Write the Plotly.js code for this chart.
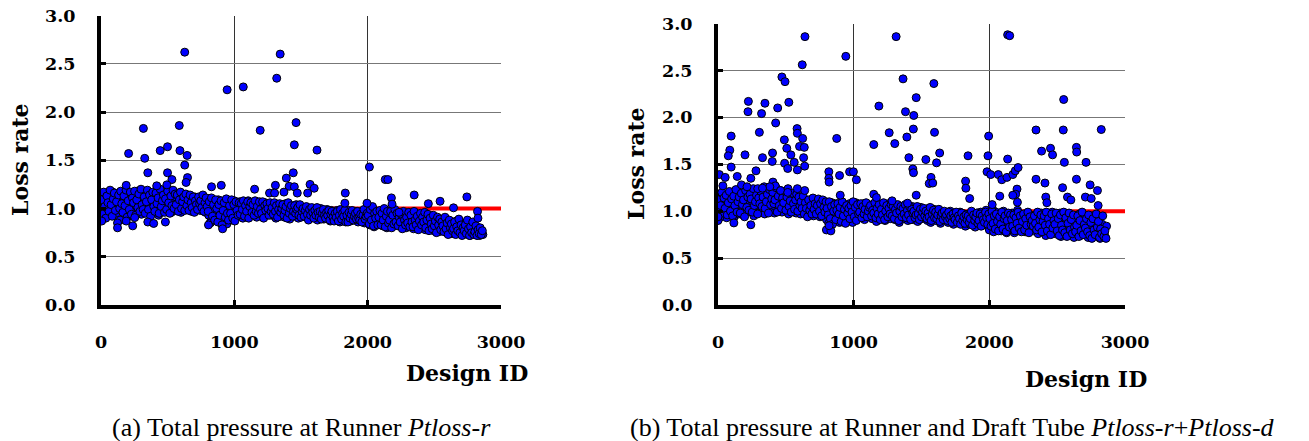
<!DOCTYPE html>
<html>
<head>
<meta charset="utf-8">
<script src="https://cdn.plot.ly/plotly-3.0.1.min.js"></script>
<style>html,body{margin:0;padding:0;background:#fff;}#chart{width:1309px;height:441px;}</style>
</head>
<body>
<div id="chart"></div>
<script>
// Design IDs of the dense band (same designs in both panels)
var designIds = [0,8,16,24,32,40,48,56,64,72,80,88,96,104,112,120,128,136,144,152,160,168,176,184,192,200,208,216,224,232,240,248,256,264,272,280,288,296,304,312,320,328,336,344,352,360,368,376,384,392,400,408,416,424,432,440,448,456,464,472,480,488,496,504,512,520,528,536,544,552,560,568,576,584,592,600,608,616,624,632,640,648,656,664,672,680,688,696,704,712,720,728,736,744,752,760,768,776,784,792,800,808,816,824,832,840,848,856,864,872,880,888,896,904,912,920,928,936,944,952,960,968,976,984,992,1000,1008,1016,1024,1032,1040,1048,1056,1064,1072,1080,1088,1096,1104,1112,1120,1128,1136,1144,1152,1160,1168,1176,1184,1192,1200,1208,1216,1224,1232,1240,1248,1256,1264,1272,1280,1288,1296,1304,1312,1320,1328,1336,1344,1352,1360,1368,1376,1384,1392,1400,1408,1416,1424,1432,1440,1448,1456,1464,1472,1480,1488,1496,1504,1512,1520,1528,1536,1544,1552,1560,1568,1576,1584,1592,1600,1608,1616,1624,1632,1640,1648,1656,1664,1672,1680,1688,1696,1704,1712,1720,1728,1736,1744,1752,1760,1768,1776,1784,1792,1800,1808,1816,1824,1832,1840,1848,1856,1864,1872,1880,1888,1896,1904,1912,1920,1928,1936,1944,1952,1960,1968,1976,1984,1992,2000,2008,2016,2024,2032,2040,2048,2056,2064,2072,2080,2088,2096,2104,2112,2120,2128,2136,2144,2152,2160,2168,2176,2184,2192,2200,2208,2216,2224,2232,2240,2248,2256,2264,2272,2280,2288,2296,2304,2312,2320,2328,2336,2344,2352,2360,2368,2376,2384,2392,2400,2408,2416,2424,2432,2440,2448,2456,2464,2472,2480,2488,2496,2504,2512,2520,2528,2536,2544,2552,2560,2568,2576,2584,2592,2600,2608,2616,2624,2632,2640,2648,2656,2664,2672,2680,2688,2696,2704,2712,2720,2728,2736,2744,2752,2760,2768,2776,2784,2792,2800,2808,2816,2824,2832,2840,2848,2856,2864];
var designIds2 = [4,12,20,28,36,44,52,60,68,76,84,92,100,108,116,124,132,140,148,156,164,172,180,188,196,204,212,220,228,236,244,252,260,268,276,284,292,300,308,316,324,332,340,348,356,364,372,380,388,396,404,412,420,428,436,444,452,460,468,476,484,492,500,508,516,524,532,540,548,556,564,572,580,588,596,604,612,620,628,636,644,652,660,668,676,684,692,700,708,716,724,732,740,748,756,764,772,780,788,796,804,812,820,828,836,844,852,860,868,876,884,892,900,908,916,924,932,940,948,956,964,972,980,988,996,1004,1012,1020,1028,1036,1044,1052,1060,1068,1076,1084,1092,1100,1108,1116,1124,1132,1140,1148,1156,1164,1172,1180,1188,1196,1204,1212,1220,1228,1236,1244,1252,1260,1268,1276,1284,1292,1300,1308,1316,1324,1332,1340,1348,1356,1364,1372,1380,1388,1396,1404,1412,1420,1428,1436,1444,1452,1460,1468,1476,1484,1492,1500,1508,1516,1524,1532,1540,1548,1556,1564,1572,1580,1588,1596,1604,1612,1620,1628,1636,1644,1652,1660,1668,1676,1684,1692,1700,1708,1716,1724,1732,1740,1748,1756,1764,1772,1780,1788,1796,1804,1812,1820,1828,1836,1844,1852,1860,1868,1876,1884,1892,1900,1908,1916,1924,1932,1940,1948,1956,1964,1972,1980,1988,1996,2004,2012,2020,2028,2036,2044,2052,2060,2068,2076,2084,2092,2100,2108,2116,2124,2132,2140,2148,2156,2164,2172,2180,2188,2196,2204,2212,2220,2228,2236,2244,2252,2260,2268,2276,2284,2292,2300,2308,2316,2324,2332,2340,2348,2356,2364,2372,2380,2388,2396,2404,2412,2420,2428,2436,2444,2452,2460,2468,2476,2484,2492,2500,2508,2516,2524,2532,2540,2548,2556,2564,2572,2580,2588,2596,2604,2612,2620,2628,2636,2644,2652,2660,2668,2676,2684,2692,2700,2708,2716,2724,2732,2740,2748,2756,2764,2772,2780,2788,2796,2804,2812,2820,2828,2836,2844,2852,2860];

// Panel (a): Ptloss-r loss rate, dense band
var bandA = [
0.98,1.12,1.05,0.93,1.15,1.08,1.01,1.16,0.96,1.10,
1.04,1.17,0.99,1.12,0.95,1.09,1.14,1.02,0.88,1.11,
1.06,1.18,0.97,1.13,1.03,0.92,1.15,1.08,1.00,1.16,
1.10,0.96,1.14,1.05,1.18,0.99,1.12,1.07,0.94,1.15,
1.03,1.17,1.08,0.97,1.13,1.01,1.16,0.95,1.10,1.06,
1.14,0.99,1.18,1.04,0.93,1.12,1.07,1.16,0.98,1.09,
1.02,1.15,0.97,1.11,1.06,1.17,0.96,1.13,1.03,1.08,
1.12,0.98,1.15,1.05,1.10,0.96,1.13,1.01,1.09,1.04,
1.11,0.99,1.07,1.13,1.02,0.97,1.10,1.05,1.12,1.00,
1.08,1.03,1.11,0.98,1.06,1.12,1.01,1.09,0.96,1.10,
1.05,0.93,1.10,0.87,1.03,0.98,1.08,0.90,1.06,0.95,
1.09,0.86,1.02,0.94,1.07,0.89,0.99,1.05,0.84,1.01,
0.92,1.06,0.88,1.03,0.97,1.08,0.91,1.00,1.05,0.94,
1.07,0.96,1.02,0.90,1.06,0.99,1.04,0.93,1.08,0.97,
1.01,1.06,0.94,1.03,0.98,1.07,0.91,1.00,1.05,0.95,
1.04,0.97,1.02,0.92,1.06,0.99,0.94,1.03,0.96,1.01,
0.93,1.05,0.98,1.02,0.90,1.04,0.96,1.00,0.92,1.03,
0.97,1.01,0.91,1.05,0.95,0.99,1.03,0.89,1.00,0.94,
1.02,0.96,0.92,1.04,0.98,0.90,1.01,0.95,0.99,0.93,
0.97,1.01,0.91,0.95,1.00,0.89,0.96,0.99,0.93,0.97,
0.92,0.99,0.95,0.88,0.98,0.94,1.00,0.91,0.96,0.89,
0.97,0.93,0.99,0.90,0.95,0.87,0.98,0.92,0.96,0.89,
0.94,0.98,0.90,0.95,0.86,0.97,0.92,0.88,0.96,0.91,
0.95,0.89,0.98,0.93,0.87,0.96,0.91,0.94,0.88,0.97,
0.92,0.86,0.95,0.90,0.97,0.88,0.93,0.85,0.96,0.91,
0.87,0.98,0.83,0.94,0.89,1.00,0.81,0.92,0.86,0.96,
0.84,0.93,0.88,0.97,0.82,0.91,0.86,0.95,0.80,0.90,
0.94,0.85,0.89,0.81,0.96,0.87,0.92,0.83,0.90,0.86,
0.91,0.82,0.95,0.87,0.84,0.93,0.80,0.89,0.85,0.92,
0.83,0.90,0.86,0.79,0.94,0.85,0.88,0.81,0.91,0.84,
0.87,0.80,0.92,0.84,0.78,0.89,0.82,0.86,0.93,0.79,
0.85,0.90,0.77,0.83,0.88,0.80,0.84,0.76,0.87,0.81,
0.78,0.84,0.80,0.89,0.75,0.82,0.86,0.77,0.81,0.74,
0.83,0.76,0.80,0.87,0.74,0.79,0.82,0.75,0.85,0.78,
0.73,0.80,0.77,0.84,0.75,0.79,0.72,0.82,0.76,0.74,
0.78,0.73,0.81,0.75,0.79,0.72,0.76,0.74,0.73];
var bandA2 = [
1.09,0.94,1.17,1.02,0.90,1.13,1.06,0.97,1.19,1.04,
0.92,1.10,1.16,0.98,1.07,0.85,1.14,1.00,1.18,1.05,
0.96,1.13,1.03,1.19,0.91,1.08,0.99,1.17,0.94,1.11,
1.06,1.18,0.93,1.09,1.01,1.15,0.97,1.20,1.04,0.99,
1.12,0.95,1.07,1.19,0.99,1.14,0.92,1.09,1.17,1.02,
0.97,1.16,1.05,1.11,0.95,1.20,1.02,1.08,1.14,0.96,
1.10,0.99,1.18,1.06,0.95,1.13,1.03,1.19,1.00,1.15,
1.04,1.14,0.97,1.09,1.17,1.00,1.07,1.12,0.98,1.15,
1.03,1.09,0.98,1.14,1.06,1.01,1.12,0.96,1.08,1.04,
0.99,1.12,1.05,1.08,1.01,1.14,0.97,1.06,1.11,1.02,
0.97,1.07,0.85,1.11,0.92,1.04,0.88,1.09,1.00,0.86,
1.04,0.93,1.08,0.83,0.98,1.06,0.91,1.10,0.95,0.88,
1.03,0.95,1.09,0.90,1.04,0.87,1.07,0.98,0.93,1.06,
0.94,1.05,0.99,1.08,0.92,1.03,0.97,1.07,0.90,1.02,
1.06,0.96,1.04,0.93,1.08,0.97,1.02,0.95,1.07,0.99,
0.95,1.07,0.90,1.03,0.98,1.05,1.00,0.93,1.06,0.97,
1.01,0.94,1.06,0.97,1.03,0.91,0.99,1.05,0.96,1.00,
1.04,0.93,0.98,1.02,0.90,1.06,0.95,1.00,1.03,0.92,
0.97,1.03,0.95,0.99,1.01,0.93,1.04,0.91,0.97,1.00,
0.92,0.98,1.02,0.94,0.88,0.99,0.93,1.01,0.96,0.90,
0.98,0.93,1.01,0.96,0.91,0.97,0.89,0.95,0.99,0.93,
0.90,0.96,0.93,0.98,0.88,0.94,0.97,0.91,0.87,0.95,
0.91,0.97,0.87,0.93,0.99,0.89,0.95,0.92,0.98,0.86,
0.93,0.86,0.96,0.90,0.94,0.98,0.88,0.92,0.95,0.89,
0.97,0.90,0.88,0.94,0.86,0.93,0.99,0.89,0.92,0.95,
0.93,0.84,0.99,0.88,1.02,0.82,0.95,0.90,0.97,0.83,
0.91,0.98,0.83,0.95,0.88,1.00,0.81,0.92,0.97,0.85,
0.88,0.97,0.80,0.93,0.84,0.99,0.86,0.95,0.82,0.91,
0.86,0.94,0.79,0.97,0.88,0.83,0.91,0.85,0.96,0.81,
0.93,0.86,0.81,0.97,0.88,0.83,0.92,0.78,0.87,0.95,
0.83,0.91,0.86,0.96,0.80,0.88,0.94,0.77,0.90,0.84,
0.79,0.93,0.82,0.87,0.75,0.91,0.83,0.89,0.78,0.86,
0.82,0.76,0.91,0.79,0.85,0.73,0.88,0.80,0.84,0.77,
0.79,0.86,0.73,0.81,0.77,0.89,0.75,0.83,0.72,0.80,
0.77,0.83,0.74,0.88,0.79,0.72,0.81,0.75,0.86,0.73,
0.76,0.82,0.72,0.78,0.74,0.80,0.73,0.77];

// Panel (a): scattered designs away from the band
var outAx = [628,1344,946,1067,1318,318,587,1194,1463,207,328,351,444,499,499,532,494,592,646,628,649,638,1450,1442,1390,1308,1411,1450,1620,1568,1599,1550,1472,1372,1264,1302,1152,829,902,189,418,2013,2132,2152,2178,2183,1832,1829,2349,2455,2543,2644,2744,2824,2827,2235,1995,124,238,189,483,351,395,806,912,5,253];
var outAy = [2.62,2.60,2.23,2.26,2.35,1.83,1.86,1.81,1.89,1.57,1.52,1.37,1.60,1.64,1.37,1.30,1.245,1.60,1.55,1.45,1.32,1.27,1.66,1.37,1.315,1.24,1.23,1.225,1.605,1.25,1.21,1.16,1.16,1.17,1.16,1.16,1.20,1.225,1.24,1.24,1.235,1.43,1.30,1.30,1.11,1.045,1.16,1.055,1.14,1.05,1.075,1.007,1.12,0.97,0.90,0.96,1.055,0.80,0.82,0.87,0.86,0.86,0.845,0.83,0.79,0.87,0.906];

// Panel (b): Ptloss-r + Ptloss-d loss rate, dense band
var bandB = [
1.02,1.15,0.95,1.10,1.18,0.99,1.07,1.13,0.93,1.16,
1.05,1.19,0.98,1.12,1.08,0.94,1.17,1.03,1.11,0.97,
1.14,1.06,1.20,0.96,1.10,1.03,1.17,0.99,1.13,1.08,
1.01,1.16,1.09,0.95,1.19,1.05,1.12,0.98,1.15,1.07,
1.18,1.02,1.11,0.97,1.21,1.06,1.14,1.00,1.17,1.09,
1.04,1.19,0.98,1.13,1.08,1.22,1.01,1.15,1.10,0.99,
1.16,1.05,1.20,1.02,1.12,0.97,1.17,1.07,1.14,1.00,
1.09,1.15,0.98,1.11,1.04,1.13,0.97,1.08,1.01,1.12,
1.05,0.99,1.10,0.96,1.07,1.12,1.00,1.09,0.95,1.06,
1.11,0.98,1.04,1.09,0.94,1.07,1.01,1.10,0.96,1.03,
0.91,1.06,0.87,1.02,0.95,1.09,0.89,1.04,0.97,1.08,
0.93,1.05,0.88,1.01,1.07,0.92,0.99,1.06,0.90,1.03,
0.96,1.08,0.91,1.02,0.88,1.05,0.97,1.09,0.93,1.00,
1.06,0.94,1.03,0.98,1.08,0.91,1.01,1.05,0.95,1.07,
0.99,1.04,0.92,1.07,0.96,1.02,0.89,1.05,0.98,1.03,
0.93,1.06,0.97,1.01,0.90,1.04,0.95,1.08,0.99,0.92,
1.03,0.96,1.00,0.91,1.05,0.94,1.02,0.88,0.98,1.04,
0.95,1.01,0.92,1.06,0.97,0.90,1.03,0.94,0.99,1.05,
0.91,0.98,1.02,0.94,0.89,1.00,0.96,1.04,0.92,0.97,
1.01,0.93,0.97,0.90,1.03,0.95,0.88,0.99,0.94,1.02,
0.96,0.90,1.00,0.93,0.97,0.87,0.99,0.94,0.91,0.98,
0.92,0.97,0.88,0.95,1.00,0.91,0.94,0.86,0.98,0.93,
0.96,0.89,0.93,0.99,0.87,0.95,0.91,0.97,0.84,0.94,
0.90,0.97,0.86,0.93,0.99,0.88,0.95,0.83,0.92,0.98,
0.94,0.87,0.99,0.91,0.85,0.96,0.89,1.01,0.86,0.93,
0.80,0.95,0.87,1.02,0.78,0.91,0.99,0.83,0.94,0.89,
0.97,0.79,0.88,1.00,0.84,0.93,0.77,0.96,0.86,0.91,
0.82,0.98,0.89,0.77,0.94,0.85,1.01,0.80,0.92,0.87,
0.95,0.83,0.90,0.78,0.97,0.86,0.81,0.93,0.88,0.84,
0.91,0.79,0.96,0.85,0.89,0.76,0.93,0.82,0.98,0.87,
0.80,0.94,0.74,0.88,0.97,0.83,0.91,0.77,0.99,0.85,
0.92,0.76,0.87,0.95,0.81,0.98,0.73,0.89,0.84,0.94,
0.78,0.90,0.83,0.96,0.75,0.88,0.80,0.93,0.72,0.86,
0.91,0.77,0.84,0.97,0.74,0.89,0.81,0.76,0.94,0.79,
0.85,0.72,0.90,0.78,0.83,0.95,0.73,0.87,0.76,0.81,
0.74,0.92,0.71,0.79,0.86,0.73,0.77,0.72,0.84];
var bandB2 = [
1.12,0.93,1.06,1.20,0.98,1.14,1.03,1.17,0.96,1.09,
1.21,1.00,1.13,0.95,1.16,1.06,1.23,0.99,1.10,1.15,
0.98,1.19,1.07,1.12,0.94,1.22,1.04,1.15,1.01,1.18,
1.13,0.99,1.24,1.06,1.10,1.17,0.97,1.14,1.08,1.21,
1.05,1.15,1.26,1.03,1.10,1.18,0.98,1.23,1.07,1.13,
1.20,1.08,1.12,1.25,0.99,1.16,1.06,1.22,1.03,1.14,
1.09,1.21,1.01,1.15,1.24,1.05,1.11,0.99,1.19,1.08,
1.02,1.12,1.18,1.00,1.15,1.06,1.10,1.03,1.16,0.97,
1.09,1.03,0.94,1.12,1.01,1.06,0.97,1.14,1.02,1.08,
0.97,1.06,1.13,1.00,1.08,0.95,1.12,1.04,0.99,1.10,
1.03,0.96,1.10,0.92,1.05,0.86,1.00,1.07,0.91,1.01,
1.08,0.97,1.04,0.89,1.10,0.95,1.02,0.87,1.06,0.98,
1.03,0.92,1.06,0.99,1.10,0.94,1.04,0.90,1.07,0.97,
0.99,1.08,0.93,1.05,0.97,1.02,1.09,0.94,1.00,1.04,
1.06,0.95,1.01,0.98,1.09,0.93,1.03,0.97,1.07,0.91,
1.02,0.96,1.09,0.91,1.00,1.06,0.94,1.03,0.97,1.07,
0.95,1.05,0.92,1.02,0.98,1.07,0.90,1.00,1.05,0.94,
1.03,0.97,1.07,0.93,1.01,0.96,1.05,0.91,1.02,0.98,
1.00,0.93,0.96,1.05,0.97,0.91,1.02,0.94,0.99,1.03,
0.95,1.00,0.92,0.98,0.94,1.04,0.90,0.97,1.01,0.93,
0.99,0.92,0.96,1.02,0.89,0.95,0.98,0.91,1.00,0.94,
0.96,0.90,0.99,0.92,0.95,0.88,0.97,0.93,0.91,0.99,
0.88,0.95,0.92,0.86,0.98,0.90,0.94,0.87,0.96,0.91,
0.95,0.88,0.92,1.00,0.85,0.96,0.90,0.94,0.98,0.87,
0.90,0.97,0.84,0.95,0.91,0.88,0.99,0.93,0.86,0.97,
0.92,0.84,1.00,0.87,0.95,0.81,0.97,0.89,0.79,0.94,
0.86,0.99,0.81,0.92,0.95,0.78,0.90,0.98,0.83,0.96,
0.91,0.84,0.96,0.79,0.93,0.87,0.99,0.82,0.95,0.78,
0.89,0.97,0.80,0.92,0.85,0.99,0.77,0.94,0.86,0.90,
0.84,0.95,0.87,0.80,0.99,0.83,0.91,0.96,0.78,0.89,
0.95,0.85,0.99,0.79,0.92,0.86,0.75,0.97,0.82,0.90,
0.86,0.98,0.79,0.92,0.74,0.96,0.85,0.80,0.99,0.77,
0.93,0.73,0.87,0.98,0.80,0.91,0.76,0.96,0.83,0.78,
0.85,0.95,0.73,0.90,0.79,0.99,0.75,0.86,0.82,0.92,
0.78,0.96,0.74,0.88,0.71,0.92,0.80,0.75,0.97,0.83,
0.89,0.72,0.81,0.76,0.95,0.73,0.79,0.71];

// Panel (b): scattered designs away from the band
var outBx = [641,1313,2135,2150,942,621,471,494,1364,1591,2548,1461,224,221,346,522,440,321,1186,1382,1443,425,1440,2344,2545,2825,1995,97,305,583,585,1262,1596,1392,875,489,624,1148,1303,2642,2644,2385,2451,2466,601,636,507,87,76,199,402,328,537,631,1634,1407,1532,1843,1990,2135,2553,2713,491,562,400,97,10,53,142,280,242,514,585,639,817,817,819,970,998,1020,896,1436,1441,1570,1557,1583,1611,1983,2010,2066,2092,2130,2173,2191,2212,1825,1827,1855,2344,2410,2540,2642,2743,2797,2708,2576,2601,2416,2424,2751,2802,2204,2194,2207,2173,2077,2021,1461,639,585,36,173,214,293,405,422,382,328,461,514,901,1148,1168,1283,1397,242,117,0,0,799,832,819];
var outBy = [2.86,2.86,2.88,2.87,2.65,2.56,2.43,2.38,2.41,2.36,2.19,2.21,2.17,2.06,2.15,2.16,2.10,2.04,2.12,2.06,2.02,1.94,1.875,1.865,1.865,1.87,1.80,1.80,1.84,1.88,1.83,1.836,1.84,1.79,1.775,1.76,1.775,1.71,1.72,1.68,1.63,1.64,1.67,1.60,1.69,1.68,1.67,1.65,1.59,1.60,1.62,1.57,1.60,1.57,1.62,1.57,1.55,1.59,1.59,1.555,1.52,1.52,1.51,1.52,1.53,1.47,1.39,1.36,1.37,1.43,1.35,1.455,1.44,1.48,1.42,1.35,1.31,1.42,1.42,1.335,1.38,1.45,1.41,1.36,1.295,1.30,1.515,1.42,1.39,1.39,1.335,1.36,1.39,1.43,1.465,1.32,1.245,1.135,1.34,1.30,1.25,1.34,1.28,1.22,1.15,1.15,1.12,1.15,1.09,1.135,1.06,1.235,1.18,1.095,1.17,1.16,1.07,1.17,1.22,1.24,1.27,1.28,1.26,1.24,1.31,1.27,1.26,1.245,1.22,1.20,1.17,1.18,1.145,1.11,1.085,0.855,0.875,0.90,0.94,0.80,0.79,0.845];

var refX = [0, 3000];
var refY = [1.0, 1.0];
var xTicks = [0, 1000, 2000, 3000];
var yTicks = [0, 0.5, 1.0, 1.5, 2.0, 2.5, 3.0];

var W = 1309, H = 441;
var mk = {size: 8, color: '#0000ff', line: {color: '#000000', width: 1}};
var tickFont = {family: 'DejaVu Serif', size: 17.5, color: '#000', weight: 'bold'};

function xAx(d0, d1) {
  return {domain: [d0 / W, d1 / W], range: [0, 3000], tickvals: xTicks, ticktext: xTicks.map(String),
    showgrid: true, gridcolor: '#333', gridwidth: 1, zeroline: false,
    showline: true, linecolor: '#000', linewidth: 4, ticks: 'inside', ticklen: 5, tickwidth: 3, tickcolor: '#000',
    tickfont: tickFont, ticklabelstandoff: 18, fixedrange: true};
}
function yAx(topPx, botPx) {
  return {domain: [(H - botPx) / H, (H - topPx) / H], range: [0, 3], tickvals: yTicks, ticktext: yTicks.map(function (v) { return v.toFixed(1); }),
    showgrid: true, gridcolor: '#777', gridwidth: 1, zeroline: false,
    showline: true, linecolor: '#000', linewidth: 4, ticks: 'inside', ticklen: 5, tickwidth: 3, tickcolor: '#000',
    tickfont: tickFont, ticklabelstandoff: 18, fixedrange: true};
}

function pts(xs, ys, xa, ya) { return {x: xs, y: ys, xaxis: xa, yaxis: ya, mode: 'markers', marker: mk}; }
function ref(xa, ya) { return {x: refX, y: refY, xaxis: xa, yaxis: ya, mode: 'lines', line: {color: '#ff0000', width: 4}, cliponaxis: false}; }

var data = [
  ref('x', 'y'),
  pts(designIds, bandA, 'x', 'y'),
  pts(designIds2, bandA2, 'x', 'y'),
  pts(outAx, outAy, 'x', 'y'),
  ref('x2', 'y2'),
  pts(designIds, bandB, 'x2', 'y2'),
  pts(designIds2, bandB2, 'x2', 'y2'),
  pts(outBx, outBy, 'x2', 'y2')
];

var titleFont = {family: 'DejaVu Serif', size: 22, color: '#000', weight: 'bold'};
var capFont = {family: 'Liberation Serif', size: 26, color: '#000'};

var layout = {
  width: W, height: H, margin: {l: 0, r: 0, t: 0, b: 0},
  paper_bgcolor: '#fff', plot_bgcolor: '#fff', showlegend: false,
  xaxis: xAx(101, 501), yaxis: yAx(15.5, 305),
  xaxis2: Object.assign(xAx(718, 1125), {anchor: 'y2'}), yaxis2: Object.assign(yAx(23.5, 305), {anchor: 'x2'}),
  annotations: [
    {text: 'Loss rate', textangle: -90, xref: 'paper', yref: 'paper', x: 20 / W, y: 1 - 160 / H, xanchor: 'center', yanchor: 'middle', showarrow: false, font: titleFont},
    {text: 'Loss rate', textangle: -90, xref: 'paper', yref: 'paper', x: 636 / W, y: 1 - 164 / H, xanchor: 'center', yanchor: 'middle', showarrow: false, font: titleFont},
    {text: 'Design ID', xref: 'paper', yref: 'paper', x: 530 / W, y: 1 - 373 / H, xanchor: 'right', yanchor: 'middle', showarrow: false, font: titleFont},
    {text: 'Design ID', xref: 'paper', yref: 'paper', x: 1149 / W, y: 1 - 379 / H, xanchor: 'right', yanchor: 'middle', showarrow: false, font: titleFont},
    {text: '(a) Total pressure at Runner <i>Ptloss</i>-<i>r</i>', xref: 'paper', yref: 'paper', x: 301 / W, y: 1 - 427 / H, xanchor: 'center', yanchor: 'middle', showarrow: false, font: capFont},
    {text: '(b) Total pressure at Runner and Draft Tube <i>Ptloss</i>-<i>r</i>+<i>Ptloss</i>-<i>d</i>', xref: 'paper', yref: 'paper', x: 952 / W, y: 1 - 427 / H, xanchor: 'center', yanchor: 'middle', showarrow: false, font: capFont}
  ]
};

Plotly.newPlot('chart', data, layout, {displayModeBar: false, staticPlot: true});
</script>
</body>
</html>
